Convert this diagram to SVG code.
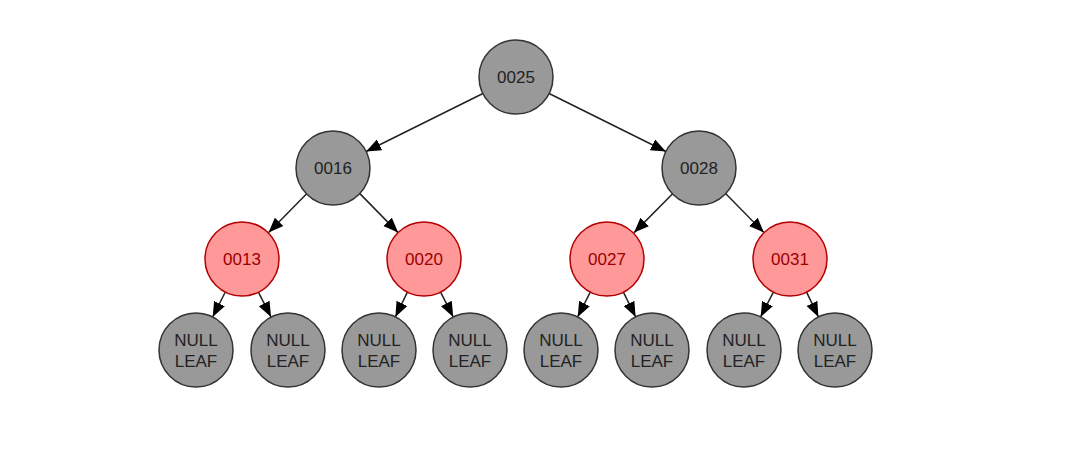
<svg xmlns="http://www.w3.org/2000/svg" width="1080" height="464" viewBox="0 0 1080 464">
<style>
.blk circle{fill:#999999;stroke:#333333;stroke-width:1.5}
.red circle{fill:#ff9999;stroke:#b20000;stroke-width:1.5}
text{font-family:"Liberation Sans",Arial,sans-serif;font-size:17px;text-anchor:middle;dominant-baseline:central}
.blk text{fill:#222222}
.red text{fill:#990000}
.edges line{stroke:#222222;stroke-width:1.5;marker-end:url(#ah)}
</style>
<defs>
<marker id="ah" markerUnits="userSpaceOnUse" markerWidth="16" markerHeight="14" refX="15" refY="7" orient="auto">
<path d="M0,1 L15,7 L0,13 Z" fill="#000000"/>
</marker>
</defs>
<rect width="1080" height="464" fill="#ffffff"/>
<g class="edges">
<line x1="482.9" y1="93.5" x2="366.1" y2="151.5"/>
<line x1="549.1" y1="93.5" x2="665.9" y2="151.5"/>
<line x1="306.9" y1="193.5" x2="268.6" y2="232.6"/>
<line x1="359.6" y1="193.4" x2="398.1" y2="232.6"/>
<line x1="672.9" y1="193.5" x2="634.1" y2="232.6"/>
<line x1="725.6" y1="193.4" x2="763.9" y2="232.6"/>
<line x1="225.3" y1="292" x2="212.7" y2="317"/>
<line x1="258.4" y1="292.1" x2="271" y2="316.9"/>
<line x1="407.4" y1="292.1" x2="395.4" y2="316.9"/>
<line x1="440.6" y1="292.1" x2="453.2" y2="316.9"/>
<line x1="590.3" y1="292.1" x2="577.7" y2="316.9"/>
<line x1="623.4" y1="292.1" x2="635.6" y2="316.9"/>
<line x1="773.4" y1="292.1" x2="760.6" y2="316.9"/>
<line x1="806.6" y1="292.1" x2="818.4" y2="316.9"/>
</g>
<g id="n0025" class="blk"><circle cx="516" cy="77" r="37"/><text x="516" y="77">0025</text></g>
<g id="n0016" class="blk"><circle cx="333" cy="168" r="37"/><text x="333" y="168">0016</text></g>
<g id="n0028" class="blk"><circle cx="699" cy="168" r="37"/><text x="699" y="168">0028</text></g>
<g id="n0013" class="red"><circle cx="242" cy="259" r="37"/><text x="242" y="259">0013</text></g>
<g id="n0020" class="red"><circle cx="424" cy="259" r="37"/><text x="424" y="259">0020</text></g>
<g id="n0027" class="red"><circle cx="607" cy="259" r="37"/><text x="607" y="259">0027</text></g>
<g id="n0031" class="red"><circle cx="790" cy="259" r="37"/><text x="790" y="259">0031</text></g>
<g id="leaf1" class="blk"><circle cx="196" cy="350" r="37"/><text x="196" y="340">NULL</text><text x="196" y="361">LEAF</text></g>
<g id="leaf2" class="blk"><circle cx="288" cy="350" r="37"/><text x="288" y="340">NULL</text><text x="288" y="361">LEAF</text></g>
<g id="leaf3" class="blk"><circle cx="379" cy="350" r="37"/><text x="379" y="340">NULL</text><text x="379" y="361">LEAF</text></g>
<g id="leaf4" class="blk"><circle cx="470" cy="350" r="37"/><text x="470" y="340">NULL</text><text x="470" y="361">LEAF</text></g>
<g id="leaf5" class="blk"><circle cx="561" cy="350" r="37"/><text x="561" y="340">NULL</text><text x="561" y="361">LEAF</text></g>
<g id="leaf6" class="blk"><circle cx="652" cy="350" r="37"/><text x="652" y="340">NULL</text><text x="652" y="361">LEAF</text></g>
<g id="leaf7" class="blk"><circle cx="744" cy="350" r="37"/><text x="744" y="340">NULL</text><text x="744" y="361">LEAF</text></g>
<g id="leaf8" class="blk"><circle cx="835" cy="350" r="37"/><text x="835" y="340">NULL</text><text x="835" y="361">LEAF</text></g>
</svg>
